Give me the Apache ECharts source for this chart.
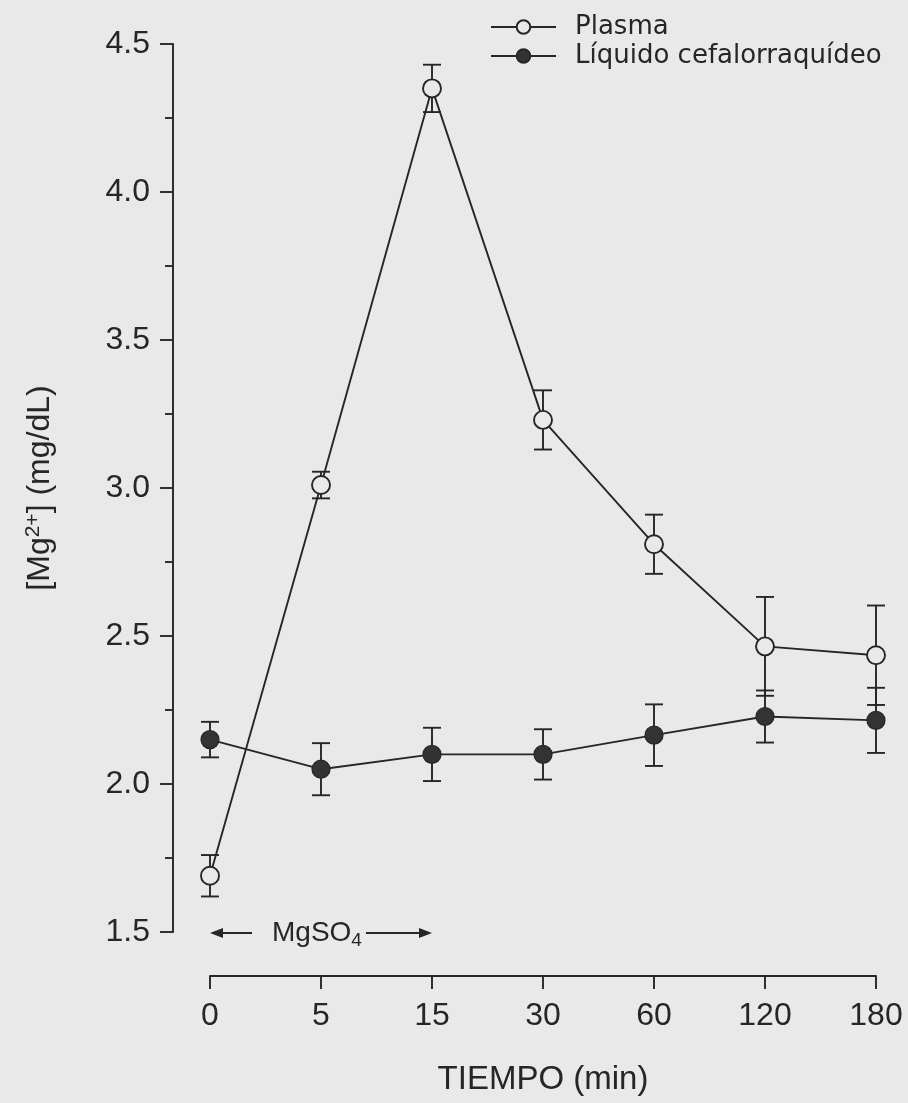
<!DOCTYPE html>
<html>
<head>
<meta charset="utf-8">
<title>[Mg2+] plasma y LCR</title>
<script src="https://cdn.jsdelivr.net/npm/echarts@6/dist/echarts.min.js"></script>
<style>
  html, body { margin: 0; padding: 0; background: #e9e9e9; }
  #chart { width: 908px; height: 1103px; }
</style>
</head>
<body>
<div id="chart"></div>
<script>
// Sampling times (min) after the start of the MgSO4 infusion
const timeLabels = ['0', '5', '15', '30', '60', '120', '180'];

// Plasma magnesium, mean and error (mg/dL)
const plasmaMean = [1.69, 3.01, 4.35, 3.23, 2.81, 2.465, 2.435];
const plasmaErr  = [0.07, 0.045, 0.08, 0.10, 0.10, 0.167, 0.168];

// Cerebrospinal fluid magnesium, mean and error (mg/dL)
const csfMean = [2.15, 2.05, 2.10, 2.10, 2.165, 2.228, 2.215];
const csfErr  = [0.06, 0.088, 0.09, 0.085, 0.104, 0.088, 0.11];

// Y axis range and step
const yMin = 1.5, yMax = 4.5, yStep = 0.5;

// Infusion period marked under the curves (category indices)
const infusionFrom = 0, infusionTo = 2;

const ink = '#262626';
const paper = '#e9e9e9';
const sans = '"Liberation Sans", Arial, sans-serif';
const wide = '"DejaVu Sans", sans-serif';
const lw = 1.9;

function errorRows(mean, err) {
  return mean.map((m, i) => [i, m - err[i], m + err[i]]);
}

function errorBarItem(params, api) {
  const i = api.value(0);
  const lo = api.coord([i, api.value(1)]);
  const hi = api.coord([i, api.value(2)]);
  const half = 9;
  const style = { stroke: ink, lineWidth: lw, fill: null };
  return {
    type: 'group',
    children: [
      { type: 'line', shape: { x1: hi[0], y1: hi[1], x2: lo[0], y2: lo[1] }, style },
      { type: 'line', shape: { x1: hi[0] - half, y1: hi[1], x2: hi[0] + half, y2: hi[1] }, style },
      { type: 'line', shape: { x1: lo[0] - half, y1: lo[1], x2: lo[0] + half, y2: lo[1] }, style }
    ]
  };
}

const chart = echarts.init(document.getElementById('chart'), null, { renderer: 'canvas' });

chart.setOption({
  backgroundColor: paper,
  animation: false,
  textStyle: { fontFamily: sans, color: ink },
  grid: { left: 210, right: 32, top: 44, bottom: 171 },
  legend: {
    orient: 'vertical',
    left: 485,
    top: 8,
    itemWidth: 65,
    itemHeight: 17,
    itemGap: 1,
    data: ['Plasma', 'Líquido cefalorraquídeo'],
    textStyle: { fontFamily: wide, fontSize: 26, color: ink, lineHeight: 28, padding: [0, 0, 0, 14] }
  },
  xAxis: {
    type: 'category',
    data: timeLabels,
    boundaryGap: false,
    offset: 44,
    name: 'TIEMPO (min)',
    nameLocation: 'middle',
    nameGap: 87,
    nameTextStyle: { fontFamily: sans, fontSize: 33, color: ink },
    axisLine: { show: true, lineStyle: { color: ink, width: lw } },
    axisTick: { show: true, interval: 0, length: 13, lineStyle: { color: ink, width: lw } },
    axisLabel: { interval: 0, margin: 24, fontFamily: sans, fontSize: 32, color: ink },
    splitLine: { show: false }
  },
  yAxis: {
    type: 'value',
    min: yMin,
    max: yMax,
    interval: yStep,
    offset: 37,
    name: '[Mg{sup|2+}] (mg/dL)',
    nameLocation: 'middle',
    nameGap: 115,
    nameTextStyle: {
      fontFamily: sans, fontSize: 32, color: ink,
      rich: { sup: { fontFamily: sans, fontSize: 21, color: ink, verticalAlign: 'top', padding: [0, 0, 14, 0] } }
    },
    axisLine: { show: true, lineStyle: { color: ink, width: lw } },
    axisTick: { show: true, length: 13, lineStyle: { color: ink, width: lw } },
    minorTick: { show: true, splitNumber: 2, length: 8, lineStyle: { color: ink, width: lw } },
    axisLabel: { margin: 23, fontFamily: sans, fontSize: 32, color: ink, formatter: v => v.toFixed(1) },
    splitLine: { show: false },
    minorSplitLine: { show: false }
  },
  series: [
    {
      name: 'Plasma',
      type: 'line',
      data: plasmaMean,
      z: 4,
      symbol: 'circle',
      symbolSize: 18,
      lineStyle: { color: ink, width: lw },
      itemStyle: { color: paper, borderColor: ink, borderWidth: lw }
    },
    {
      name: 'Líquido cefalorraquídeo',
      type: 'line',
      data: csfMean,
      z: 4,
      symbol: 'circle',
      symbolSize: 18,
      lineStyle: { color: ink, width: lw },
      itemStyle: { color: '#333333', borderColor: ink, borderWidth: 1.2 }
    },
    {
      name: 'plasmaErr',
      type: 'custom',
      data: errorRows(plasmaMean, plasmaErr),
      encode: { x: 0, y: [1, 2] },
      renderItem: errorBarItem,
      z: 2,
      silent: true
    },
    {
      name: 'csfErr',
      type: 'custom',
      data: errorRows(csfMean, csfErr),
      encode: { x: 0, y: [1, 2] },
      renderItem: errorBarItem,
      z: 2,
      silent: true
    }
  ]
});

// Infusion period: arrows pointing to both ends with the salt name between
const pFrom = chart.convertToPixel({ gridIndex: 0 }, [infusionFrom, yMin]);
const pTo = chart.convertToPixel({ gridIndex: 0 }, [infusionTo, yMin]);
const ay = pFrom[1] + 1;
const head = 13, headHalf = 5;
chart.setOption({
  graphic: [
    { type: 'line', shape: { x1: pFrom[0] + 6, y1: ay, x2: pFrom[0] + 42, y2: ay }, style: { stroke: ink, lineWidth: lw } },
    { type: 'polygon', shape: { points: [[pFrom[0], ay], [pFrom[0] + head, ay - headHalf], [pFrom[0] + head, ay + headHalf]] }, style: { fill: ink } },
    {
      type: 'text', x: pFrom[0] + 62, y: ay, style: {
        text: 'MgSO{sub|4}', fontFamily: sans, fontSize: 28, fill: ink, verticalAlign: 'middle',
        rich: { sub: { fontFamily: sans, fontSize: 19, fill: ink, padding: [15, 0, 0, 0] } }
      }
    },
    { type: 'line', shape: { x1: pTo[0] - 66, y1: ay, x2: pTo[0] - 6, y2: ay }, style: { stroke: ink, lineWidth: lw } },
    { type: 'polygon', shape: { points: [[pTo[0], ay], [pTo[0] - head, ay - headHalf], [pTo[0] - head, ay + headHalf]] }, style: { fill: ink } }
  ]
});
</script>
</body>
</html>
